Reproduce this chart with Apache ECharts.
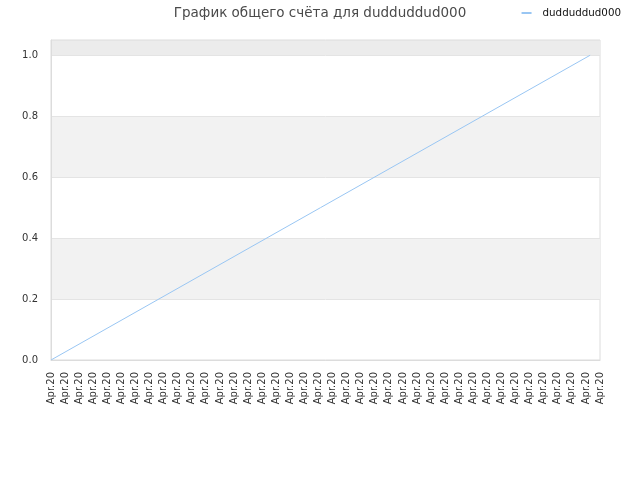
<!DOCTYPE html>
<html>
<head>
<meta charset="utf-8">
<script src="https://cdn.jsdelivr.net/npm/echarts@6/dist/echarts.min.js"></script>
<style>
  html, body { margin: 0; padding: 0; background: #fff; }
  #chart { width: 640px; height: 480px; }
</style>
</head>
<body>
<div id="chart"></div>
<script>
var seriesName = 'dudduddud000';
// 40 одинаковых подписей по оси X
var dayLabels = [];
for (var i = 0; i < 40; i++) dayLabels.push('Apr.20');
// точки линии (позиция по оси X в делениях, значение)
var lineX = [0, 38.3];
var lineY = [0, 1.0];

var chart = echarts.init(document.getElementById('chart'));

var points = lineX.map(function (x, i) { return [x, lineY[i]]; });

var option = {
  animation: false,
  textStyle: { fontFamily: 'DejaVu Sans' },
  title: {
    text: 'График общего счёта для ' + seriesName,
    left: 'center',
    top: 1,
    textStyle: { fontSize: 13.5, fontWeight: 'normal', color: '#4a4a4a', fontFamily: 'DejaVu Sans' }
  },
  legend: {
    right: 14,
    top: 3,
    itemWidth: 10,
    itemHeight: 2,
    icon: 'rect',
    textStyle: { fontSize: 10.3, color: '#111', fontFamily: 'DejaVu Sans', padding: [0, 0, 0, 6] },
    data: [seriesName]
  },
  grid: {
    left: 51, right: 40, top: 40, bottom: 120,
    show: true, borderColor: '#dcdcdc', borderWidth: 1, backgroundColor: 'transparent'
  },
  xAxis: [{
    type: 'category',
    data: dayLabels,
    boundaryGap: false,
    axisLine: { lineStyle: { color: '#dcdcdc' } },
    axisTick: { show: false },
    axisLabel: { rotate: 90, interval: 0, fontSize: 10, color: '#333', margin: 12 }
  }, {
    type: 'value',
    min: 0,
    max: dayLabels.length - 1,
    show: false
  }],
  yAxis: {
    type: 'value',
    min: 0,
    max: 1.05,
    interval: 0.2,
    axisLine: { show: true, lineStyle: { color: '#dcdcdc' } },
    axisTick: { show: false },
    axisLabel: {
      fontSize: 10, color: '#333', margin: 13, showMaxLabel: false,
      formatter: function (v) { return v.toFixed(1); }
    },
    splitLine: { lineStyle: { color: '#e4e4e4' } },
    splitArea: {
      show: true,
      areaStyle: { color: ['rgba(255,255,255,0)', '#f2f2f2', 'rgba(255,255,255,0)', '#f2f2f2', 'rgba(255,255,255,0)', '#ececec'] }
    }
  },
  series: [{
    name: seriesName,
    type: 'line',
    xAxisIndex: 1,
    data: points,
    showSymbol: false,
    lineStyle: { color: '#99c6f3', width: 1 },
    itemStyle: { color: '#99c6f3' }
  }]
};

chart.setOption(option);
</script>
</body>
</html>
